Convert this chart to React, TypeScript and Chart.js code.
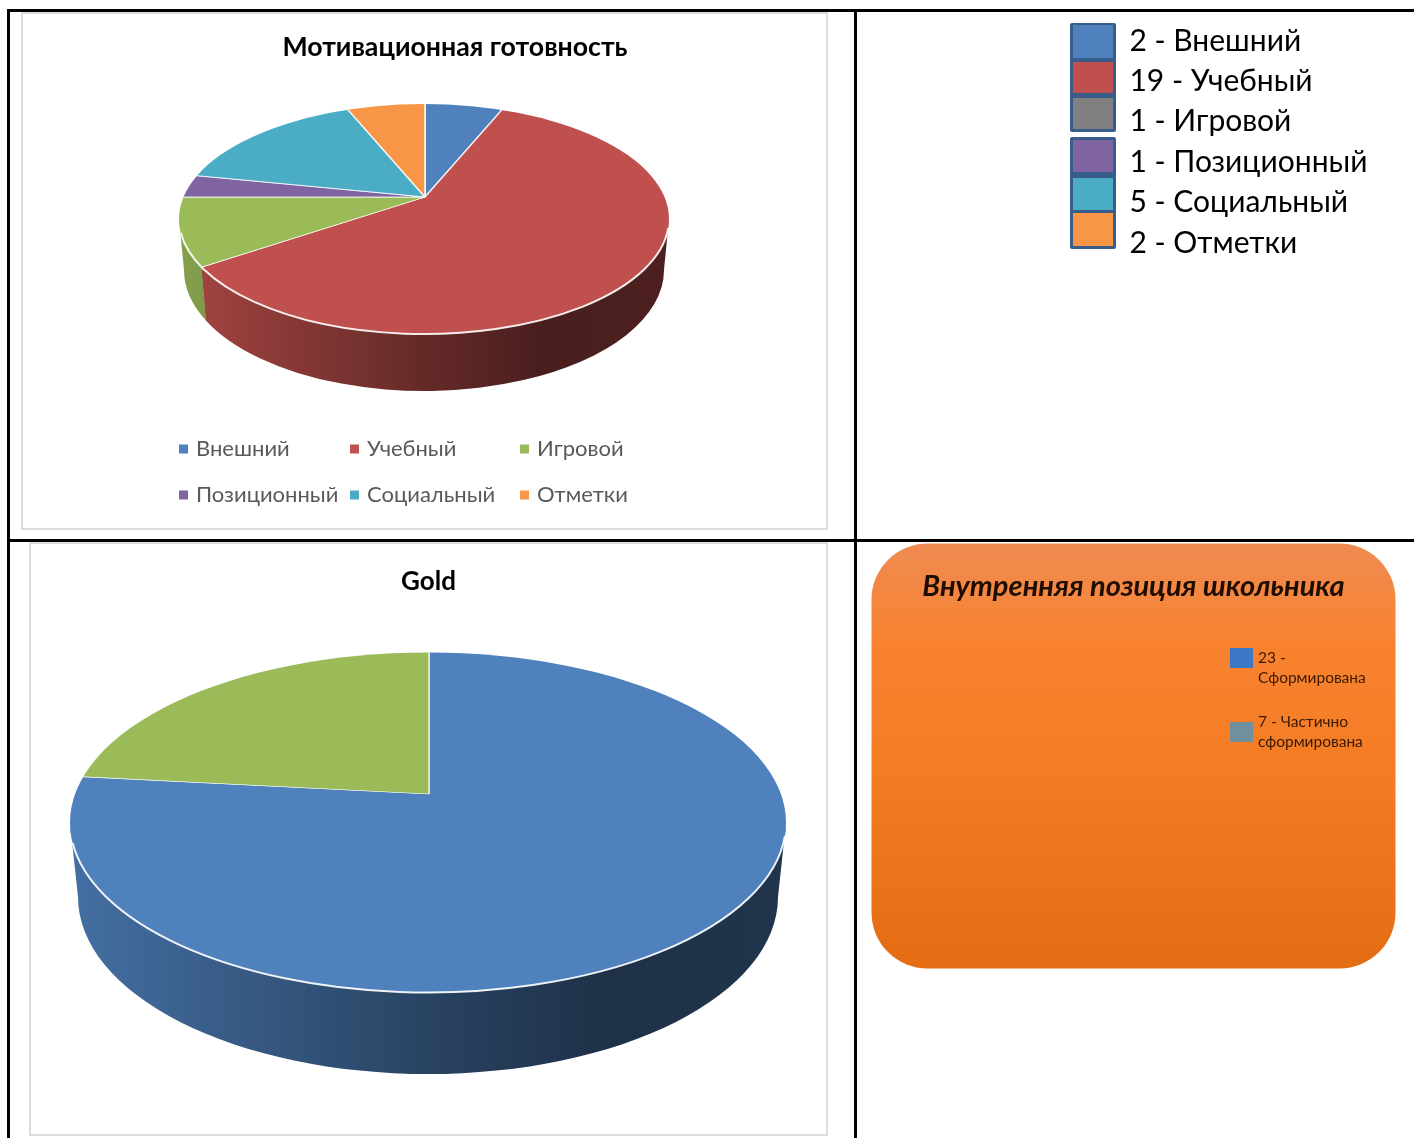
import React, { useEffect, useRef } from "react";
import { Chart, registerables } from "chart.js";

Chart.register(...registerables);

const motivationLabels = ["Внешний", "Учебный", "Игровой", "Позиционный", "Социальный", "Отметки"];
const motivationValues = [2, 19, 3, 1, 5, 2];
const motivationColors = ["#4f81bd", "#c0504d", "#9bbb59", "#8064a2", "#4bacc6", "#f79646"];

const goldLabels = ["Сформирована", "Частично сформирована"];
const goldValues = [23, 7];
const goldColors = ["#4f81bd", "#9bbb59"];

const countLabels = ["Внешний", "Учебный", "Игровой", "Позиционный", "Социальный", "Отметки"];
const countValues = [2, 19, 1, 1, 5, 2];
const countColors = ["#4f81bd", "#c0504d", "#808080", "#8064a2", "#4bacc6", "#f79646"];

const positionTitle = "Внутренняя позиция школьника";
const positionValues = [23, 7];
const positionLines = [["23 -", "Сформирована"], ["7 - Частично", "сформирована"]];
const positionColors = ["#3d78c6", "#7090a0"];

const FONT = "Lato, 'Open Sans', sans-serif";

function shade(hex: string, f: number) {
  const n = parseInt(hex.slice(1), 16);
  const c = [(n >> 16) & 255, (n >> 8) & 255, n & 255].map((v) => Math.round(v * f));
  return `rgb(${c[0]},${c[1]},${c[2]})`;
}

type Geo = {
  ax: number; ay: number; // apex of the slices
  ex: number; ey: number; rx: number; ry: number; // top face
  bx: number; by: number; brx: number; bry: number; // bottom face
};

function pie3d(g: Geo) {
  return {
    id: "pie3d",
    beforeDatasetsDraw(chart: any) {
      const ctx = chart.ctx;
      const meta = chart.getDatasetMeta(0);
      const k = g.ry / g.rx;
      const px = g.ax - g.ex;
      const py = (g.ay - g.ey) / k;
      const phi = (t: number) => {
        const ux = Math.cos(t), uy = Math.sin(t);
        const b = px * ux + py * uy;
        const c = px * px + py * py - g.rx * g.rx;
        const s = -b + Math.sqrt(b * b - c);
        return Math.atan2(py + s * uy, px + s * ux);
      };
      ctx.save();
      // side wall
      meta.data.forEach((arc: any, i: number) => {
        const color = chart.data.datasets[0].wallColors[i];
        const grad = ctx.createLinearGradient(g.ex - g.rx, 0, g.ex + g.rx, 0);
        grad.addColorStop(0, shade(color, 0.86));
        grad.addColorStop(0.5, shade(color, 0.52));
        grad.addColorStop(0.75, shade(color, 0.38));
        grad.addColorStop(1, shade(color, 0.4));
        let a = phi(arc.startAngle);
        let b = phi(arc.endAngle);
        if (b <= a) b += Math.PI * 2;
        [-Math.PI * 2, 0, Math.PI * 2].forEach((shift) => {
          const lo = Math.max(a + shift, 0);
          const hi = Math.min(b + shift + 0.004, Math.PI);
          if (hi <= lo) return;
          ctx.beginPath();
          ctx.ellipse(g.ex, g.ey, g.rx, g.ry, 0, lo, hi);
          ctx.ellipse(g.bx, g.by, g.brx, g.bry, 0, hi, lo, true);
          ctx.closePath();
          ctx.fillStyle = grad;
          ctx.fill();
        });
      });
      // top face: slices clipped to the off-centre ellipse
      const first = meta.data[0];
      const S = (g.rx + Math.hypot(px, py) + 6) / first.outerRadius;
      ctx.beginPath();
      ctx.ellipse(g.ex, g.ey, g.rx, g.ry, 0, 0, Math.PI * 2);
      ctx.clip();
      ctx.translate(g.ax, g.ay);
      ctx.scale(S, S * k);
      ctx.translate(-first.x, -first.y);
    },
    afterDatasetsDraw(chart: any) {
      const ctx = chart.ctx;
      ctx.restore();
      ctx.beginPath();
      ctx.ellipse(g.ex, g.ey, g.rx, g.ry, 0, 0.08, Math.PI - 0.12);
      ctx.strokeStyle = "rgba(255,255,255,0.9)";
      ctx.lineWidth = 2;
      ctx.stroke();
    },
  };
}

function motivationLegend() {
  const cols = [157, 328, 498];
  const rows = [436, 482];
  return {
    id: "columnLegend",
    afterDraw(chart: any) {
      const ctx = chart.ctx;
      ctx.save();
      ctx.font = `22px ${FONT}`;
      ctx.textBaseline = "middle";
      chart.data.labels.forEach((label: string, i: number) => {
        const x = cols[i % 3];
        const y = rows[Math.floor(i / 3)];
        ctx.fillStyle = chart.data.datasets[0].backgroundColor[i];
        ctx.fillRect(x, y - 4.5, 9, 9);
        ctx.fillStyle = "#595959";
        ctx.fillText(label, x + 17, y);
      });
      ctx.restore();
    },
  };
}

function countBoxes() {
  const fills = [[7, 40], [44, 75], [80, 111], [122, 154], [160, 192], [195, 228]];
  const groups = [[5, 114], [119, 231]];
  return {
    id: "countBoxes",
    afterDraw(chart: any) {
      const ctx = chart.ctx;
      ctx.save();
      ctx.fillStyle = "#385d8a";
      groups.forEach(([a, b]) => {
        ctx.beginPath();
        ctx.roundRect(5, a, 46, b - a, 2);
        ctx.fill();
      });
      fills.forEach(([a, b], i) => {
        ctx.fillStyle = countColors[i];
        ctx.fillRect(8, a, 40, b - a);
      });
      ctx.restore();
    },
  };
}

function positionPanel() {
  return {
    id: "positionPanel",
    beforeDraw(chart: any) {
      const ctx = chart.ctx;
      const { width, height } = chart;
      const grad = ctx.createLinearGradient(0, 0, 0, height);
      grad.addColorStop(0, "#ef8b52");
      grad.addColorStop(0.25, "#f9822f");
      grad.addColorStop(0.6, "#f17a21");
      grad.addColorStop(1, "#e46c12");
      ctx.beginPath();
      ctx.roundRect(0.5, 0.5, width - 1, height - 1, 56);
      ctx.fillStyle = grad;
      ctx.fill();
    },
    afterDraw(chart: any) {
      const ctx = chart.ctx;
      const tops = [104, 168];
      ctx.save();
      ctx.font = `15.5px ${FONT}`;
      ctx.textBaseline = "middle";
      const boxes = [[105, 20], [179, 20]];
      positionLines.forEach((lines, i) => {
        ctx.fillStyle = positionColors[i];
        ctx.fillRect(359, boxes[i][0], 23, boxes[i][1]);
        ctx.fillStyle = "#3a1a05";
        lines.forEach((line, j) => ctx.fillText(line, 387, tops[i] + 11 + j * 20));
      });
      ctx.restore();
    },
  };
}

function useChart(make: (c: HTMLCanvasElement) => Chart) {
  const ref = useRef<HTMLCanvasElement>(null);
  useEffect(() => {
    const chart = make(ref.current!);
    return () => chart.destroy();
  }, []);
  return ref;
}

function Canvas({ left, top, width, height, make, blur }: any) {
  const ref = useChart(make);
  return <canvas ref={ref} width={width} height={height} style={{ position: "absolute", left, top, width, height, display: "block", filter: `blur(${blur}px)` }} />;
}

function Rule({ left, top, width, height }: any) {
  return <div style={{ position: "absolute", left, top, width, height, background: "#000" }} />;
}

function Frame({ left, top, width, height }: any) {
  return <div style={{ position: "absolute", left, top, width, height, boxSizing: "border-box", border: "2px solid #dcdcdc", background: "#fff" }} />;
}

const makeMotivation = (c: HTMLCanvasElement) =>
  new Chart(c, {
    type: "pie",
    data: {
      labels: motivationLabels,
      datasets: [{
        data: motivationValues,
        backgroundColor: motivationColors,
        wallColors: motivationColors,
        borderColor: "rgba(255,255,255,0.8)",
        borderWidth: 0.7,
      } as any],
    },
    options: {
      responsive: false,
      animation: false,
      layout: { padding: { bottom: 210 } },
      plugins: {
        legend: { display: false },
        tooltip: { enabled: false },
        title: {
          display: true,
          text: "Мотивационная готовность",
          color: "#000",
          font: { family: FONT, size: 26.7, weight: "bold" },
          padding: { top: 18, bottom: 10 },
        },
      },
    },
    plugins: [
      pie3d({ ax: 403, ay: 184, ex: 402, ey: 206, rx: 245, ry: 115, bx: 402, by: 257, brx: 240, bry: 121 }),
      motivationLegend(),
    ],
  } as any);

const makeGold = (c: HTMLCanvasElement) =>
  new Chart(c, {
    type: "pie",
    data: {
      labels: goldLabels,
      datasets: [{
        data: goldValues,
        backgroundColor: goldColors,
        wallColors: goldColors,
        borderColor: "rgba(255,255,255,0.8)",
        borderWidth: 0.8,
      } as any],
    },
    options: {
      responsive: false,
      animation: false,
      layout: { padding: { bottom: 40 } },
      plugins: {
        legend: { display: false },
        tooltip: { enabled: false },
        title: {
          display: true,
          text: "Gold",
          color: "#000",
          font: { family: FONT, size: 26, weight: "bold" },
          padding: { top: 23, bottom: 10 },
        },
      },
    },
    plugins: [
      pie3d({ ax: 399, ay: 251, ex: 398, ey: 279.5, rx: 358, ry: 170, bx: 398, by: 354, brx: 350, bry: 177 }),
    ],
  } as any);

const makeCounts = (c: HTMLCanvasElement) =>
  new Chart(c, {
    type: "pie",
    data: {
      labels: countLabels,
      datasets: [{ data: countValues, backgroundColor: "rgba(0,0,0,0)", borderWidth: 0 }],
    },
    options: {
      responsive: false,
      animation: false,
      plugins: {
        tooltip: { enabled: false },
        legend: {
          position: "left",
          align: "start",
          maxWidth: 349,
          labels: {
            boxWidth: 44,
            boxHeight: 35,
            padding: 5.4,
            color: "#1a1a1a",
            font: { family: FONT, size: 30 },
            generateLabels: () =>
              countLabels.map((label, i) => ({
                text: `${countValues[i]} - ${label}`,
                fillStyle: "rgba(0,0,0,0)",
                strokeStyle: "rgba(0,0,0,0)",
                lineWidth: 0,
                index: i,
              })),
          },
        },
      },
    },
    plugins: [countBoxes()],
  } as any);

const makePosition = (c: HTMLCanvasElement) =>
  new Chart(c, {
    type: "pie",
    data: {
      labels: positionLines.map((l) => l.join(" ")),
      datasets: [{ data: positionValues, backgroundColor: "rgba(0,0,0,0)", borderWidth: 0 }],
    },
    options: {
      responsive: false,
      animation: false,
      plugins: {
        legend: { display: false },
        tooltip: { enabled: false },
        title: {
          display: true,
          text: positionTitle,
          color: "#1f0d00",
          font: { family: FONT, size: 29, weight: "bold", style: "italic" },
          padding: { top: 26, bottom: 10 },
        },
      },
    },
    plugins: [positionPanel()],
  } as any);

export default function App() {
  return (
    <div style={{ position: "absolute", left: 0, top: 0, width: 1414, height: 1138, overflow: "hidden", background: "#fff" }}>
      <Frame left={21} top={12} width={807} height={518} />
      <Frame left={29} top={542} width={799} height={594} />
      <Canvas left={22} top={13} width={866} height={516} make={makeMotivation} blur={0.35} />
      <Canvas left={30} top={543} width={797} height={592} make={makeGold} blur={0.35} />
      <Canvas left={1065} top={18} width={349} height={300} make={makeCounts} blur={0.35} />
      <Canvas left={871} top={543} width={525} height={426} make={makePosition} blur={0.7} />
      <Rule left={7} top={9} width={1407} height={3} />
      <Rule left={7} top={539} width={1407} height={3} />
      <Rule left={7} top={9} width={3} height={1129} />
      <Rule left={854} top={9} width={3} height={1129} />
    </div>
  );
}
